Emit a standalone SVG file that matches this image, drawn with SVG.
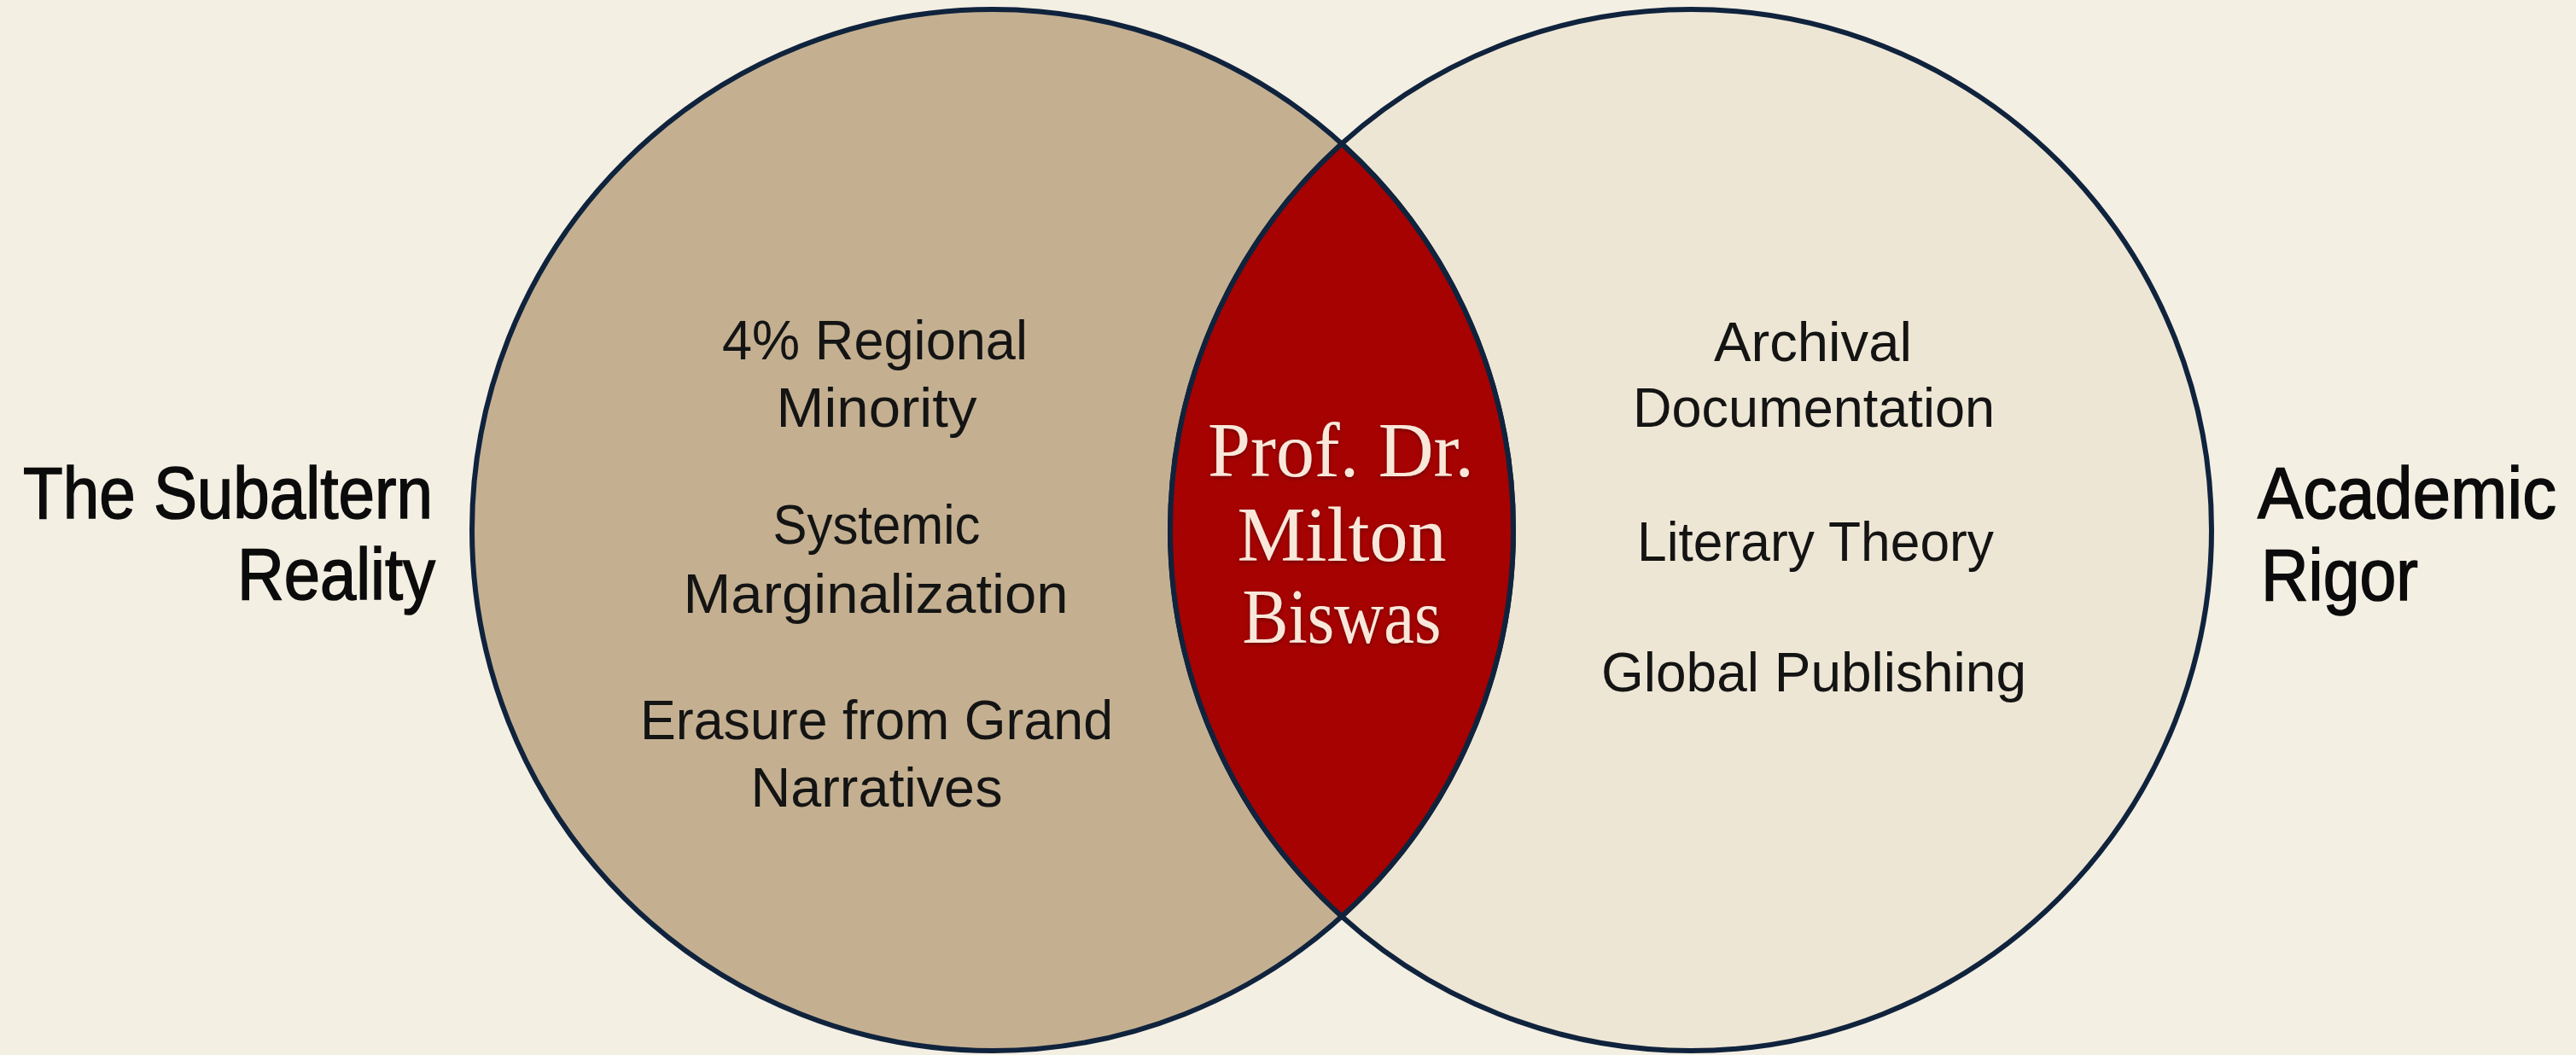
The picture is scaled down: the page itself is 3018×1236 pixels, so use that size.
<svg xmlns="http://www.w3.org/2000/svg" width="3018" height="1236" viewBox="0 0 3018 1236">
  <style>
    .bg { fill: #f4efe3; }
    .ring { fill: none; stroke: #10233d; stroke-width: 6; }
    .left-fill { fill: #c4b091; }
    .right-fill { fill: #eee6d4; }
    .lens { fill: #a60202; stroke: #10233d; stroke-width: 6; stroke-linejoin: round; }
    .item { font-family: "Liberation Sans", Arial, sans-serif; font-size: 64px; fill: #141414; text-anchor: middle; }
    .side { font-family: "Liberation Sans", Arial, sans-serif; font-size: 86px; fill: #0b0b0b; stroke: #0b0b0b; stroke-width: 1.6; }
    .name { font-family: "Liberation Serif", "Times New Roman", serif; font-size: 90px; fill: #f9e8da; text-anchor: middle; }
  </style>
  <defs>
    <filter id="glow" x="-10%" y="-10%" width="120%" height="120%">
      <feDropShadow dx="0" dy="2" stdDeviation="2" flood-color="#4a0000" flood-opacity="0.6"/>
    </filter>
  </defs>
  <rect class="bg" x="0" y="0" width="3018" height="1236"/>

  <g id="node-subaltern">
    <circle class="left-fill" cx="1163" cy="621" r="610"/>
  </g>
  <g id="node-academic">
    <circle class="right-fill" cx="1981" cy="621" r="610"/>
  </g>
  <g id="outlines">
    <circle class="ring" cx="1163" cy="621" r="610"/>
    <circle class="ring" cx="1981" cy="621" r="610"/>
  </g>
  <g id="node-intersection">
    <path class="lens" d="M1572,168.4 A610,610 0 0 1 1572,1073.6 A610,610 0 0 1 1572,168.4 Z"/>
    <g filter="url(#glow)">
      <text class="name" x="1571" y="558" textLength="312" lengthAdjust="spacingAndGlyphs">Prof. Dr.</text>
      <text class="name" x="1572" y="657" textLength="245" lengthAdjust="spacingAndGlyphs">Milton</text>
      <text class="name" x="1572" y="753" textLength="233" lengthAdjust="spacingAndGlyphs">Biswas</text>
    </g>
  </g>

  <g id="left-items">
    <text class="item" x="1025" y="421" textLength="358" lengthAdjust="spacingAndGlyphs">4% Regional</text>
    <text class="item" x="1027" y="500" textLength="235" lengthAdjust="spacingAndGlyphs">Minority</text>
    <text class="item" x="1027" y="637" textLength="243" lengthAdjust="spacingAndGlyphs">Systemic</text>
    <text class="item" x="1026" y="718" textLength="451" lengthAdjust="spacingAndGlyphs">Marginalization</text>
    <text class="item" x="1027" y="866" textLength="554" lengthAdjust="spacingAndGlyphs">Erasure from Grand</text>
    <text class="item" x="1027" y="945" textLength="295" lengthAdjust="spacingAndGlyphs">Narratives</text>
  </g>

  <g id="right-items">
    <text class="item" x="2124" y="423" textLength="232" lengthAdjust="spacingAndGlyphs">Archival</text>
    <text class="item" x="2125" y="500" textLength="424" lengthAdjust="spacingAndGlyphs">Documentation</text>
    <text class="item" x="2127" y="657" textLength="418" lengthAdjust="spacingAndGlyphs">Literary Theory</text>
    <text class="item" x="2125" y="810" textLength="498" lengthAdjust="spacingAndGlyphs">Global Publishing</text>
  </g>

  <g id="label-subaltern">
    <text class="side" x="507" y="607" text-anchor="end" textLength="480" lengthAdjust="spacingAndGlyphs">The Subaltern</text>
    <text class="side" x="510" y="702" text-anchor="end" textLength="232" lengthAdjust="spacingAndGlyphs">Reality</text>
  </g>
  <g id="label-academic">
    <text class="side" x="2645" y="607" textLength="350" lengthAdjust="spacingAndGlyphs">Academic</text>
    <text class="side" x="2649" y="703" textLength="184" lengthAdjust="spacingAndGlyphs">Rigor</text>
  </g>

  <g id="connectors"/>
</svg>
